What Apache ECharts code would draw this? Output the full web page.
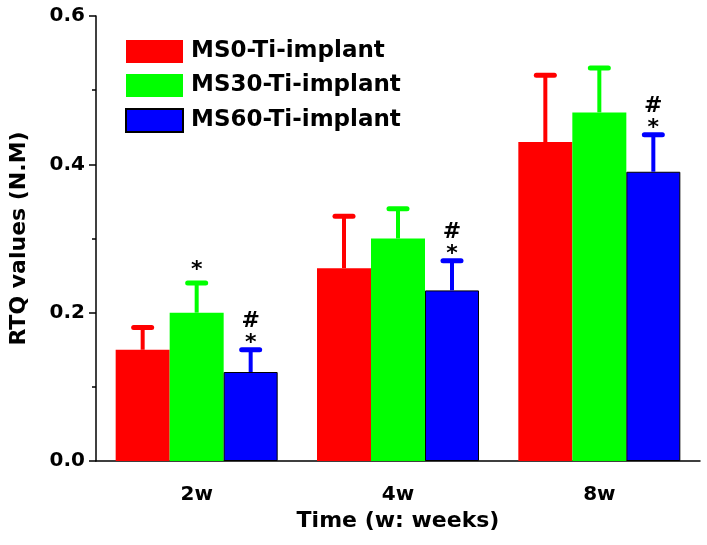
<!DOCTYPE html>
<html>
<head>
<meta charset="utf-8">
<script src="https://cdn.jsdelivr.net/npm/echarts@6/dist/echarts.min.js"></script>
<style>
  html, body { margin: 0; padding: 0; background: #fff; }
  #chart { width: 707px; height: 545px; }
</style>
</head>
<body>
<div id="chart"></div>
<script>
var categories = ['2w', '4w', '8w'];
var seriesNames = ['MS0-Ti-implant', 'MS30-Ti-implant', 'MS60-Ti-implant'];
var colors = ['#ff0000', '#00ff00', '#0000ff'];

// means and upper error (SD) for each group
var ms0 = [0.15, 0.26, 0.43];
var ms0Err = [0.03, 0.07, 0.09];
var ms30 = [0.20, 0.30, 0.47];
var ms30Err = [0.04, 0.04, 0.06];
var ms60 = [0.12, 0.23, 0.39];
var ms60Err = [0.03, 0.04, 0.05];

// significance marks drawn above each error bar
var ms0Marks = ['', '', ''];
var ms30Marks = ['*', '', ''];
var ms60Marks = ['#*', '#*', '#*'];

var values = [ms0, ms30, ms60];
var errors = [ms0Err, ms30Err, ms60Err];
var marks = [ms0Marks, ms30Marks, ms60Marks];

var BAR_W = 54;
var FONT = '"DejaVu Sans", sans-serif';

var errData = [];
for (var s = 0; s < 3; s++) {
  for (var i = 0; i < categories.length; i++) {
    errData.push([i, values[s][i], errors[s][i], s, marks[s][i]]);
  }
}

function renderErr(params, api) {
  var s = api.value(3);
  var c = api.coord([api.value(0), 0])[0] + (s - 1) * BAR_W;
  var yBase = api.coord([0, api.value(1)])[1];
  var yTop = api.coord([0, api.value(1) + api.value(2)])[1];
  var col = colors[s];
  var mark = errData[params.dataIndex][4];
  var children = [
    { type: 'line', shape: { x1: c, y1: yBase, x2: c, y2: yTop },
      style: { stroke: col, lineWidth: 4 } },
    { type: 'line', shape: { x1: c - 9, y1: yTop, x2: c + 9, y2: yTop },
      style: { stroke: col, lineWidth: 5, lineCap: 'round' } }
  ];
  // lone star sits a little higher than one paired with '#'
  var starGap = mark === '*' ? 13 : 6;
  if (mark.indexOf('*') >= 0) {
    children.push({ type: 'text', x: c, y: yTop - starGap,
      style: { text: '*', fill: '#000', font: 'bold 22px ' + FONT, align: 'center', verticalAlign: 'middle' } });
  }
  if (mark.indexOf('#') >= 0) {
    children.push({ type: 'text', x: c, y: yTop - 28,
      style: { text: '#', fill: '#000', font: 'bold 22px ' + FONT, align: 'center', verticalAlign: 'middle' } });
  }
  return { type: 'group', children: children };
}

var barSeries = seriesNames.map(function (name, s) {
  return {
    name: name,
    type: 'bar',
    xAxisIndex: 0,
    data: values[s],
    barWidth: BAR_W,
    barGap: '0%',
    itemStyle: {
      color: colors[s],
      borderColor: s === 2 ? '#000' : colors[s],
      borderWidth: s === 2 ? 1 : 0
    },
    emphasis: { disabled: true }
  };
});

var option = {
  animation: false,
  backgroundColor: '#fff',
  grid: { left: 96, right: 7, top: 16, bottom: 84 },
  legend: {
    orient: 'vertical',
    left: 125,
    top: 40,
    padding: 0,
    itemWidth: 57,
    itemHeight: 23,
    itemGap: 11,
    icon: 'rect',
    data: seriesNames,
    textStyle: { color: '#000', fontFamily: FONT, fontWeight: 'bold', fontSize: 23, padding: [0, 0, 0, 3] }
  },
  xAxis: [
    {
      type: 'category',
      data: categories,
      name: 'Time (w: weeks)',
      nameLocation: 'middle',
      nameGap: 47,
      nameTextStyle: { color: '#000', fontFamily: FONT, fontWeight: 'bold', fontSize: 22 },
      axisLine: { lineStyle: { color: '#000', width: 1.5 } },
      axisTick: { alignWithLabel: true, length: 7, lineStyle: { color: '#000', width: 1.5 } },
      axisLabel: { color: '#000', fontFamily: FONT, fontWeight: 'bold', fontSize: 20, margin: 24 },
      splitLine: { show: false }
    },
    {
      type: 'category',
      data: categories,
      position: 'bottom',
      axisLine: { show: false },
      axisTick: { length: 4, lineStyle: { color: '#000', width: 1.5 } },
      axisLabel: { show: false },
      splitLine: { show: false }
    }
  ],
  yAxis: {
    type: 'value',
    min: 0,
    max: 0.6,
    interval: 0.2,
    name: 'RTQ values (N.M)',
    nameLocation: 'middle',
    nameGap: 66,
    nameTextStyle: { color: '#000', fontFamily: FONT, fontWeight: 'bold', fontSize: 22 },
    axisLine: { show: true, lineStyle: { color: '#000', width: 1.5 } },
    axisTick: { show: true, length: 7, lineStyle: { color: '#000', width: 1.5 } },
    minorTick: { show: true, splitNumber: 2, length: 4, lineStyle: { color: '#000', width: 1.5 } },
    axisLabel: {
      color: '#000', fontFamily: FONT, fontWeight: 'bold', fontSize: 20, margin: 11,
      formatter: function (v) { return v.toFixed(1); }
    },
    splitLine: { show: false }
  },
  series: barSeries.concat([{
    type: 'custom',
    name: 'err',
    xAxisIndex: 0,
    renderItem: renderErr,
    data: errData,
    z: 5,
    silent: true
  }])
};

var myChart = echarts.init(document.getElementById('chart'));
myChart.setOption(option);
</script>
</body>
</html>
